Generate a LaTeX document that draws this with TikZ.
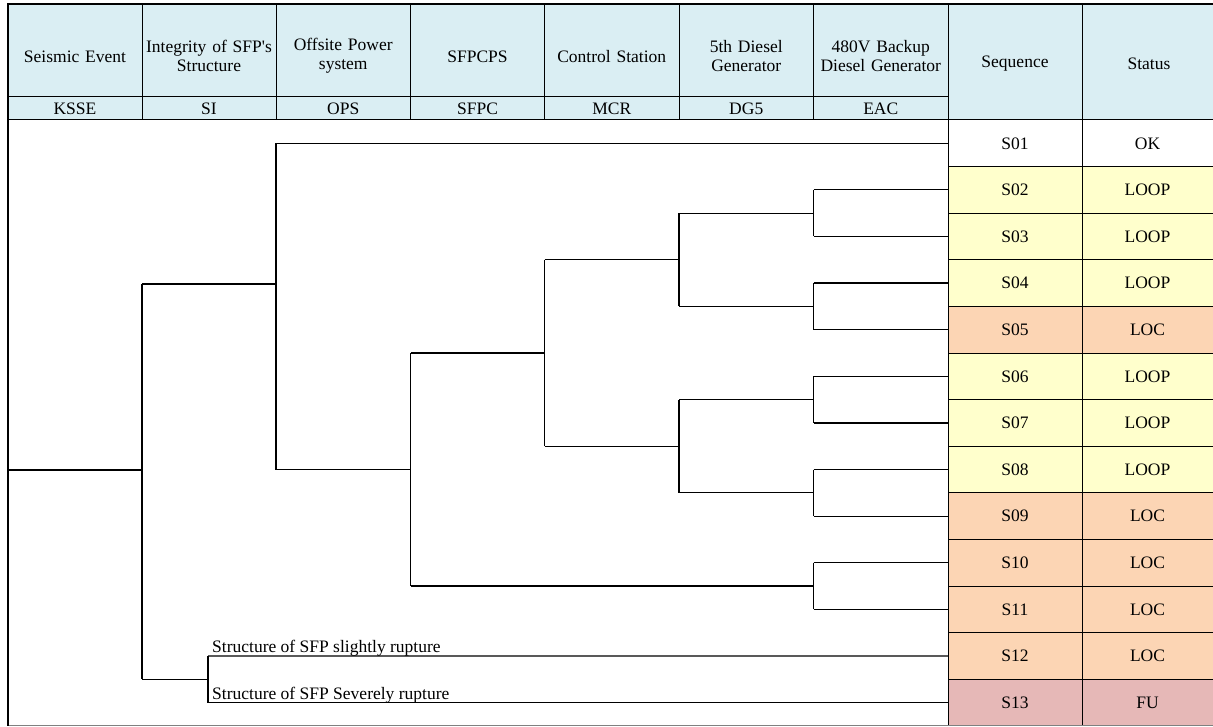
\documentclass[tikz,border=0pt]{standalone}
\usepackage{fontspec}
\setmainfont{Liberation Serif}
\newfontfamily\nolig{Liberation Serif}
\definecolor{hdr}{HTML}{DAEEF3}
\definecolor{yel}{HTML}{FFFFCC}
\definecolor{org}{HTML}{FCD5B4}
\definecolor{pnk}{HTML}{E6B8B7}
\begin{document}
\begin{tikzpicture}[x=1pt,y=-1pt,
  font=\fontsize{17.5}{19}\selectfont,
  tree/.style={line width=1.2pt, black},
  grid/.style={line width=1pt, black},
  frame/.style={line width=2pt, black},
  hname/.style={align=center, inner sep=0pt, text width=132pt},
  hcode/.style={inner sep=0pt},
  seqcell/.style={minimum width=134pt, minimum height=46.6pt, inner sep=0pt, anchor=north west, outer sep=0pt},
  stcell/.style={minimum width=131pt, minimum height=46.6pt, inner sep=0pt, anchor=north west, outer sep=0pt},
  lbl/.style={anchor=base west, inner sep=0pt}]
\useasboundingbox (0,0) rectangle (1213,727);
% header background
\fill[hdr] (8,4) rectangle (1213,120);
% header names
\node[hname] (h1) at (75,57) {Seismic Event};
\node[hname] (h2) at (209,56) {Integrity of SFP{\nolig\char"0027}s\\Structure};
\node[hname] (h3) at (343.25,56) {Offsite Power\\system};
\node[hname] (h4) at (477.5,57) {SFPCPS};
\node[hname] (h5) at (611.75,57) {Control Station};
\node[hname] (h6) at (746.25,56) {5th Diesel\\Generator};
\node[hname] (h7) at (880.75,56) {480V Backup\\Diesel Generator};
\node[hname] (hs) at (1015,64) {Sequence};
\node[hname] (ht) at (1149,64) {Status};
% codes
\node[hcode] (c1) at (75,108.5) {KSSE};
\node[hcode] (c2) at (209,108.5) {SI};
\node[hcode] (c3) at (343.25,108.5) {OPS};
\node[hcode] (c4) at (477.5,108.5) {SFPC};
\node[hcode] (c5) at (611.75,108.5) {MCR};
\node[hcode] (c6) at (746.25,108.5) {DG5};
\node[hcode] (c7) at (880.75,108.5) {EAC};
% sequence and status cells
\node[seqcell] (q01) at (948,120) {S01};
\node[stcell] (t01) at (1082,120) {OK};
\node[seqcell, fill=yel] (q02) at (948,166.6) {S02};
\node[stcell, fill=yel] (t02) at (1082,166.6) {LOOP};
\node[seqcell, fill=yel] (q03) at (948,213.2) {S03};
\node[stcell, fill=yel] (t03) at (1082,213.2) {LOOP};
\node[seqcell, fill=yel] (q04) at (948,259.8) {S04};
\node[stcell, fill=yel] (t04) at (1082,259.8) {LOOP};
\node[seqcell, fill=org] (q05) at (948,306.4) {S05};
\node[stcell, fill=org] (t05) at (1082,306.4) {LOC};
\node[seqcell, fill=yel] (q06) at (948,353.0) {S06};
\node[stcell, fill=yel] (t06) at (1082,353.0) {LOOP};
\node[seqcell, fill=yel] (q07) at (948,399.6) {S07};
\node[stcell, fill=yel] (t07) at (1082,399.6) {LOOP};
\node[seqcell, fill=yel] (q08) at (948,446.2) {S08};
\node[stcell, fill=yel] (t08) at (1082,446.2) {LOOP};
\node[seqcell, fill=org] (q09) at (948,492.8) {S09};
\node[stcell, fill=org] (t09) at (1082,492.8) {LOC};
\node[seqcell, fill=org] (q10) at (948,539.4) {S10};
\node[stcell, fill=org] (t10) at (1082,539.4) {LOC};
\node[seqcell, fill=org] (q11) at (948,586.0) {S11};
\node[stcell, fill=org] (t11) at (1082,586.0) {LOC};
\node[seqcell, fill=org] (q12) at (948,632.6) {S12};
\node[stcell, fill=org] (t12) at (1082,632.6) {LOC};
\node[seqcell, fill=pnk] (q13) at (948,679.2) {S13};
\node[stcell, fill=pnk] (t13) at (1082,679.2) {FU};
% grid lines of the header
\draw[grid] (8,97) -- (948,97);
\draw[grid] (8,120) -- (1213,120);
\foreach \x in {142,276,410.5,544.5,679,813.5}
  \draw[grid] (\x,4) -- (\x,120);
\draw[grid] (948,4) -- (948,725.8);
\draw[grid] (1082,4) -- (1082,725.8);
\foreach \y in {166.6,213.2,259.8,306.4,353.0,399.6,446.2,492.8,539.4,586.0,632.6,679.2}
  \draw[grid] (948,\y) -- (1213,\y);
% outer frame
\draw[line width=1pt, gray] (8,725.8) -- (1213,725.8);
\draw[frame] (8,725.8) -- (8,4) -- (1213,4);
% tree coordinates
\coordinate (k0) at (8,470);
\coordinate (k1) at (142,470);
\coordinate (si1) at (142,284);
\coordinate (si2) at (142,679.2);
\coordinate (o1) at (276,284);
\coordinate (o2) at (276,143.3);
\coordinate (o3) at (276,469.5);
\coordinate (r1) at (208,679.2);
\coordinate (r2) at (208,655.9);
\coordinate (r3) at (208,702.5);
\coordinate (p1) at (410.5,469.5);
\coordinate (p2) at (410.5,353.0);
\coordinate (p3) at (410.5,586.0);
\coordinate (m1) at (544.5,353.0);
\coordinate (m2) at (544.5,259.8);
\coordinate (m3) at (544.5,446.2);
\coordinate (d1) at (679,259.8);
\coordinate (d2) at (679,213.2);
\coordinate (d3) at (679,306.4);
\coordinate (d4) at (679,446.2);
\coordinate (d5) at (679,399.6);
\coordinate (d6) at (679,492.8);
\coordinate (e1) at (813.5,213.2);
\coordinate (e2) at (813.5,306.4);
\coordinate (e3) at (813.5,399.6);
\coordinate (e4) at (813.5,492.8);
\coordinate (e5) at (813.5,586.0);
% tree
\draw[tree] (k0) -- (k1);
\draw[tree] (si1) -- (si2);
\draw[tree] (si1) -- (o1);
\draw[tree] (si2) -- (r1);
\draw[tree] (o2) -- (o3);
\draw[tree] (o2) -- (q01.west);
\draw[tree] (o3) -- (p1);
\draw[tree] (p2) -- (p3);
\draw[tree] (p2) -- (m1);
\draw[tree] (p3) -- (e5);
\draw[tree] (m2) -- (m3);
\draw[tree] (m2) -- (d1);
\draw[tree] (m3) -- (d4);
\draw[tree] (d2) -- (d3);
\draw[tree] (d2) -- (e1);
\draw[tree] (d3) -- (e2);
\draw[tree] (d5) -- (d6);
\draw[tree] (d5) -- (e3);
\draw[tree] (d6) -- (e4);
\draw[tree] (e1 |- q02.west) -- (e1 |- q03.west);
\draw[tree] (e1 |- q02.west) -- (q02.west);
\draw[tree] (e1 |- q03.west) -- (q03.west);
\draw[tree] (e2 |- q04.west) -- (e2 |- q05.west);
\draw[tree] (e2 |- q04.west) -- (q04.west);
\draw[tree] (e2 |- q05.west) -- (q05.west);
\draw[tree] (e3 |- q06.west) -- (e3 |- q07.west);
\draw[tree] (e3 |- q06.west) -- (q06.west);
\draw[tree] (e3 |- q07.west) -- (q07.west);
\draw[tree] (e4 |- q08.west) -- (e4 |- q09.west);
\draw[tree] (e4 |- q08.west) -- (q08.west);
\draw[tree] (e4 |- q09.west) -- (q09.west);
\draw[tree] (e5 |- q10.west) -- (e5 |- q11.west);
\draw[tree] (e5 |- q10.west) -- (q10.west);
\draw[tree] (e5 |- q11.west) -- (q11.west);
\draw[tree] (r2) -- (r3);
\draw[tree] (r2) -- (q12.west);
\draw[tree] (r3) -- (q13.west);
% labels
\node[lbl] (l1) at (212,652.5) {Structure of SFP slightly rupture};
\node[lbl] (l2) at (212,699) {Structure of SFP Severely rupture};
\end{tikzpicture}
\end{document}
